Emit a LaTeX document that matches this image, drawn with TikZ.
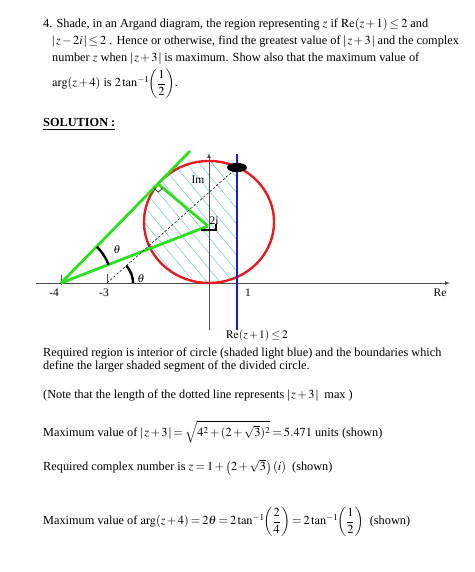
\documentclass[tikz,border=0pt]{standalone}
\usepackage{amsmath}
\usepackage{mathptmx}
\usepackage{fontspec}
\setmainfont{Liberation Serif}
\usepackage{tikz}
\usetikzlibrary{calc}

\definecolor{circred}{RGB}{228,28,36}
\definecolor{lineblue}{RGB}{22,30,215}
\definecolor{tangreen}{RGB}{45,222,35}
\definecolor{hatchblue}{RGB}{110,198,212}

\medmuskip=2mu plus 1mu
\thickmuskip=3mu plus 1mu
\newcommand{\absbar}{\textnormal{|}}

\begin{document}
\begin{tikzpicture}[x=1pt,y=1pt,
  txt/.style={anchor=base west, inner sep=0pt, font=\fontsize{12.3}{14}\selectfont},
  lbl/.style={anchor=base, inner sep=0pt, font=\fontsize{11.5}{13}\selectfont},
  axis/.style={->, >=latex, draw=black!70, line width=0.7pt},
  gline/.style={draw=tangreen, line width=2.8pt},
  thetaarc/.style={draw=black, line width=2.4pt}]
\useasboundingbox (0,0) rectangle (474,572);

\node[txt] (q1) at (43,544) {4. Shade, in an Argand diagram, the region representing $z$ if $\mathrm{Re}(z+1)\le 2$ and};
\node[txt] (q2) at (52,527.5) {$\absbar\,z-2i\,\absbar\le 2$ . Hence or otherwise, find the greatest value of $\absbar\,z+3\,\absbar$ and the complex};
\node[txt] (q3) at (52,510) {number $z$ when $\absbar\,z+3\,\absbar$ is maximum. Show also that the maximum value of};
\node[txt] (q4) at (52,485) {$\arg(z+4)$ is $2\tan^{-1}\!\biggl(\dfrac{1}{2}\biggr)$.};
\node[txt] (sol) at (43,445) {\underline{\textbf{SOLUTION :}}};

\coordinate (A) at (61,289);   % -4
\coordinate (B) at (107,289);  % -3
\coordinate (C) at (209,350);  % centre 2i
\coordinate (G) at (208,346);
\coordinate (T) at (158,388);
\coordinate (E) at (237,404.5);
\coordinate (F) at (190,421);
\coordinate (xl) at (36,289);
\coordinate (xr) at (450,289);
\coordinate (yb) at (209,242);
\coordinate (yt) at (209,419);
\coordinate (bb) at (237,242);
\coordinate (bt) at (237,418);

% shading of the segment
\begin{scope}
\clip (C) ellipse [x radius=65, y radius=61];
\clip (130,280) rectangle (237,420);
\foreach \k in {-12,...,10}
  \draw[hatchblue, line width=0.5pt] ($(C)+(13*\k-80,96)$) -- ($(C)+(13*\k+80,-96)$);
\end{scope}

\draw[axis] (xl) -- (xr);
\draw[axis] (yb) -- (yt);
\draw[black!70, line width=0.7pt] (61,287) -- (61,297);
\draw[black!70, line width=0.7pt] (107,288) -- (107,298);

\draw[circred, line width=2.4pt] (C) ellipse [x radius=65, y radius=61];
\draw[lineblue, line width=2.8pt] (bb) -- (bt);

\draw[gline] (A) -- (F);
\draw[gline] (A) -- (G);
\draw[gline] (T) -- (G);

\coordinate (ra) at ($(T)!6pt!(A)$);
\coordinate (rb) at ($(T)!6pt!(G)$);
\draw[black, line width=0.5pt] (ra) -- ($(ra)+(rb)-(T)$) -- (rb);

\draw[black, line width=0.5pt, dash pattern=on 2.5pt off 1.8pt] (B) -- (E);
\fill[black] (E) ellipse [x radius=10, y radius=4.6];
\draw[black, line width=2pt] (201,342) -- (216,342) -- (216,348);

\draw[thetaarc] ($(A)+(21:51)$) arc[start angle=21, end angle=45, radius=51];
\draw[thetaarc] ($(B)+(0:26)$) arc[start angle=0, end angle=42, radius=26];

\node[lbl] (th1) at (117,318) {$\theta$};
\node[lbl] (th2) at (141,289) {$\theta$};
\node[lbl] (im) at (198,388) {Im};
\node[lbl] (two) at (214,347) {2i};
\node[lbl] (m4) at (54,275) {-4};
\node[lbl] (m3) at (104,275) {-3};
\node[lbl] (one) at (248,275) {1};
\node[lbl] (re) at (440,275) {Re};
\node[lbl] (cond) at (257,233) {$\mathrm{Re}(z+1)\le 2$};

\node[txt] (r1) at (43,215) {Required region is interior of circle (shaded light blue) and the boundaries which};
\node[txt] (r2) at (43,202) {define the larger shaded segment of the divided circle.};
\node[txt] (r3) at (43,173) {(Note that the length of the dotted line represents $\absbar\,z+3\,\absbar$ \ max )};
\node[txt] (r4) at (43,135) {Maximum value of $\absbar\,z+3\,\absbar=\sqrt{4^2+(2+\sqrt{3})^2}=5.471$ units (shown)};
\node[txt] (r5) at (43,101) {Required complex number is $z=1+\left(2+\sqrt{3}\right)(i)$ \ (shown)};
\node[txt] (r6) at (43,47) {Maximum value of $\arg(z+4)=2\theta=2\tan^{-1}\!\biggl(\dfrac{2}{4}\biggr)=2\tan^{-1}\!\biggl(\dfrac{1}{2}\biggr)$ \ (shown)};
\end{tikzpicture}
\end{document}
